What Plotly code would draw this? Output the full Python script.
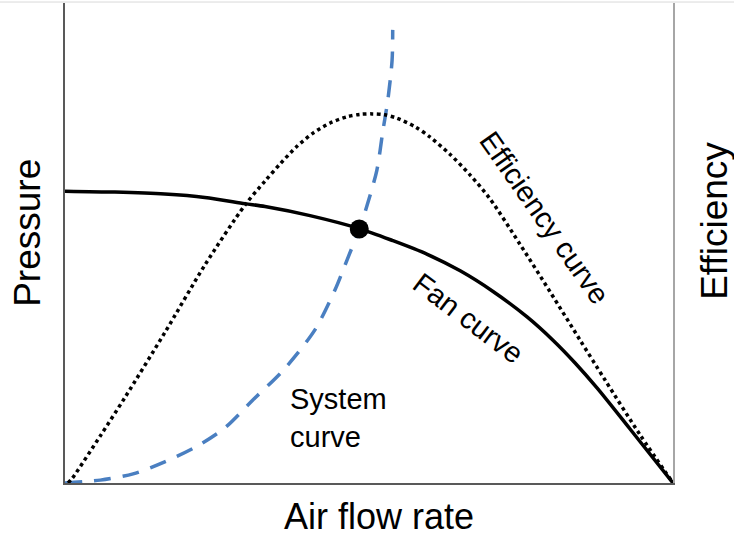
import plotly.graph_objects as go

# Fan curve (pressure vs air flow rate), 0-100 relative units
fan_x = [0, 8.2, 16.4, 23.0, 29.6, 32.9, 40.3, 48.4, 53.9, 59.5, 65.0, 70.4, 76.0, 80.3, 83.9, 87.5, 92.9, 100]
fan_y = [60.8, 60.6, 60.2, 59.5, 58.2, 57.6, 55.7, 53.0, 50.5, 47.7, 44.2, 39.9, 34.6, 29.7, 25.0, 19.8, 11.3, 0]

# System curve
sys_x = [0, 5.8, 11.2, 16.4, 21.5, 26.3, 30.9, 35.9, 41.1, 44.4, 46.4, 48.4, 49.7, 51.3, 52.3, 53.1, 53.8, 53.9]
sys_y = [0, 0.6, 1.9, 4.4, 7.5, 11.5, 17.3, 23.5, 31.9, 40.2, 46.5, 52.9, 57.9, 65.2, 73.5, 79.8, 88.1, 94.4]

# Efficiency curve
eff_x = [0.5, 1.2, 5.8, 9.9, 16.4, 23.0, 29.6, 32.9, 35.4, 38.2, 40.8, 43.6, 46.4, 48.5, 50.5,
         52.6, 54.6, 57.6, 60.0, 63.3, 66.6, 69.9, 74.8, 79.8, 84.7, 88.8, 94.6, 100]
eff_y = [0, 1.0, 9.8, 17.9, 31.3, 45.4, 57.9, 62.9, 66.5, 70.2, 72.9, 75.0, 76.3, 76.8, 76.9,
         76.7, 76.0, 74.2, 72.1, 68.5, 64.2, 59.2, 49.8, 39.8, 29.8, 21.5, 10.0, 0]

# Operating point
op_x = [48.4]
op_y = [52.9]

FONT = "Liberation Sans, Arial, sans-serif"

fig = go.Figure()
fig.add_trace(go.Scatter(x=eff_x, y=eff_y, mode="lines", yaxis="y2",
                         line=dict(color="black", width=3.5, dash="3.5px,3.5px",
                                   shape="spline", smoothing=0.8),
                         showlegend=False, hoverinfo="skip"))
fig.add_trace(go.Scatter(x=sys_x, y=sys_y, mode="lines",
                         line=dict(color="#4a7fc1", width=3.5, dash="17px,12px",
                                   shape="spline", smoothing=0.8),
                         showlegend=False, hoverinfo="skip"))
fig.add_trace(go.Scatter(x=fan_x, y=fan_y, mode="lines",
                         line=dict(color="black", width=3.5, shape="spline", smoothing=0.8),
                         showlegend=False, hoverinfo="skip"))
fig.add_trace(go.Scatter(x=op_x, y=op_y, mode="markers",
                         marker=dict(color="black", size=19),
                         showlegend=False, hoverinfo="skip", cliponaxis=False))

fig.update_layout(
    width=734, height=537,
    margin=dict(l=65, r=61, t=3, b=54),
    paper_bgcolor="white", plot_bgcolor="white",
    font=dict(family=FONT, color="black"),
    xaxis=dict(range=[0, 100], showline=True, linecolor="#595959", linewidth=2,
               showticklabels=False, ticks="", showgrid=False, zeroline=False),
    yaxis=dict(range=[0, 100], showline=True, linecolor="#595959", linewidth=2,
               showticklabels=False, ticks="", showgrid=False, zeroline=False),
    yaxis2=dict(range=[0, 100], overlaying="y", side="right", showline=True,
                linecolor="#a6a6a6", linewidth=1.5,
                showticklabels=False, ticks="", showgrid=False, zeroline=False),
    shapes=[dict(type="line", xref="paper", yref="paper", x0=-0.11, x1=1.11,
                 y0=1.002, y1=1.002, line=dict(color="#d9d9d9", width=1))],
    annotations=[
        dict(text="Air flow rate", xref="paper", yref="paper", x=0.516, y=-0.07,
             showarrow=False, font=dict(size=36), xanchor="center", yanchor="middle",
             borderpad=0),
        dict(text="Pressure", xref="paper", yref="paper", x=-0.061, y=0.521,
             showarrow=False, font=dict(size=37), textangle=-90, xanchor="center", yanchor="middle"),
        dict(text="Efficiency", xref="paper", yref="paper", x=1.069, y=0.546,
             showarrow=False, font=dict(size=37), textangle=-90, xanchor="center", yanchor="middle"),
        dict(text="System<br>curve", x=36.7, y=13.5, showarrow=False, font=dict(size=29),
             xanchor="left", yanchor="middle", align="left"),
        dict(text="Fan curve", x=66.3, y=34.4, showarrow=False, font=dict(size=29),
             textangle=37, xanchor="center", yanchor="middle"),
        dict(text="Efficiency curve", x=78.9, y=55.2, showarrow=False, font=dict(size=29),
             textangle=55, xanchor="center", yanchor="middle"),
    ],
)

fig.write_html("out.html", config={"displayModeBar": False},
               post_script="document.body.style.margin='0';document.body.style.overflow='hidden';")
